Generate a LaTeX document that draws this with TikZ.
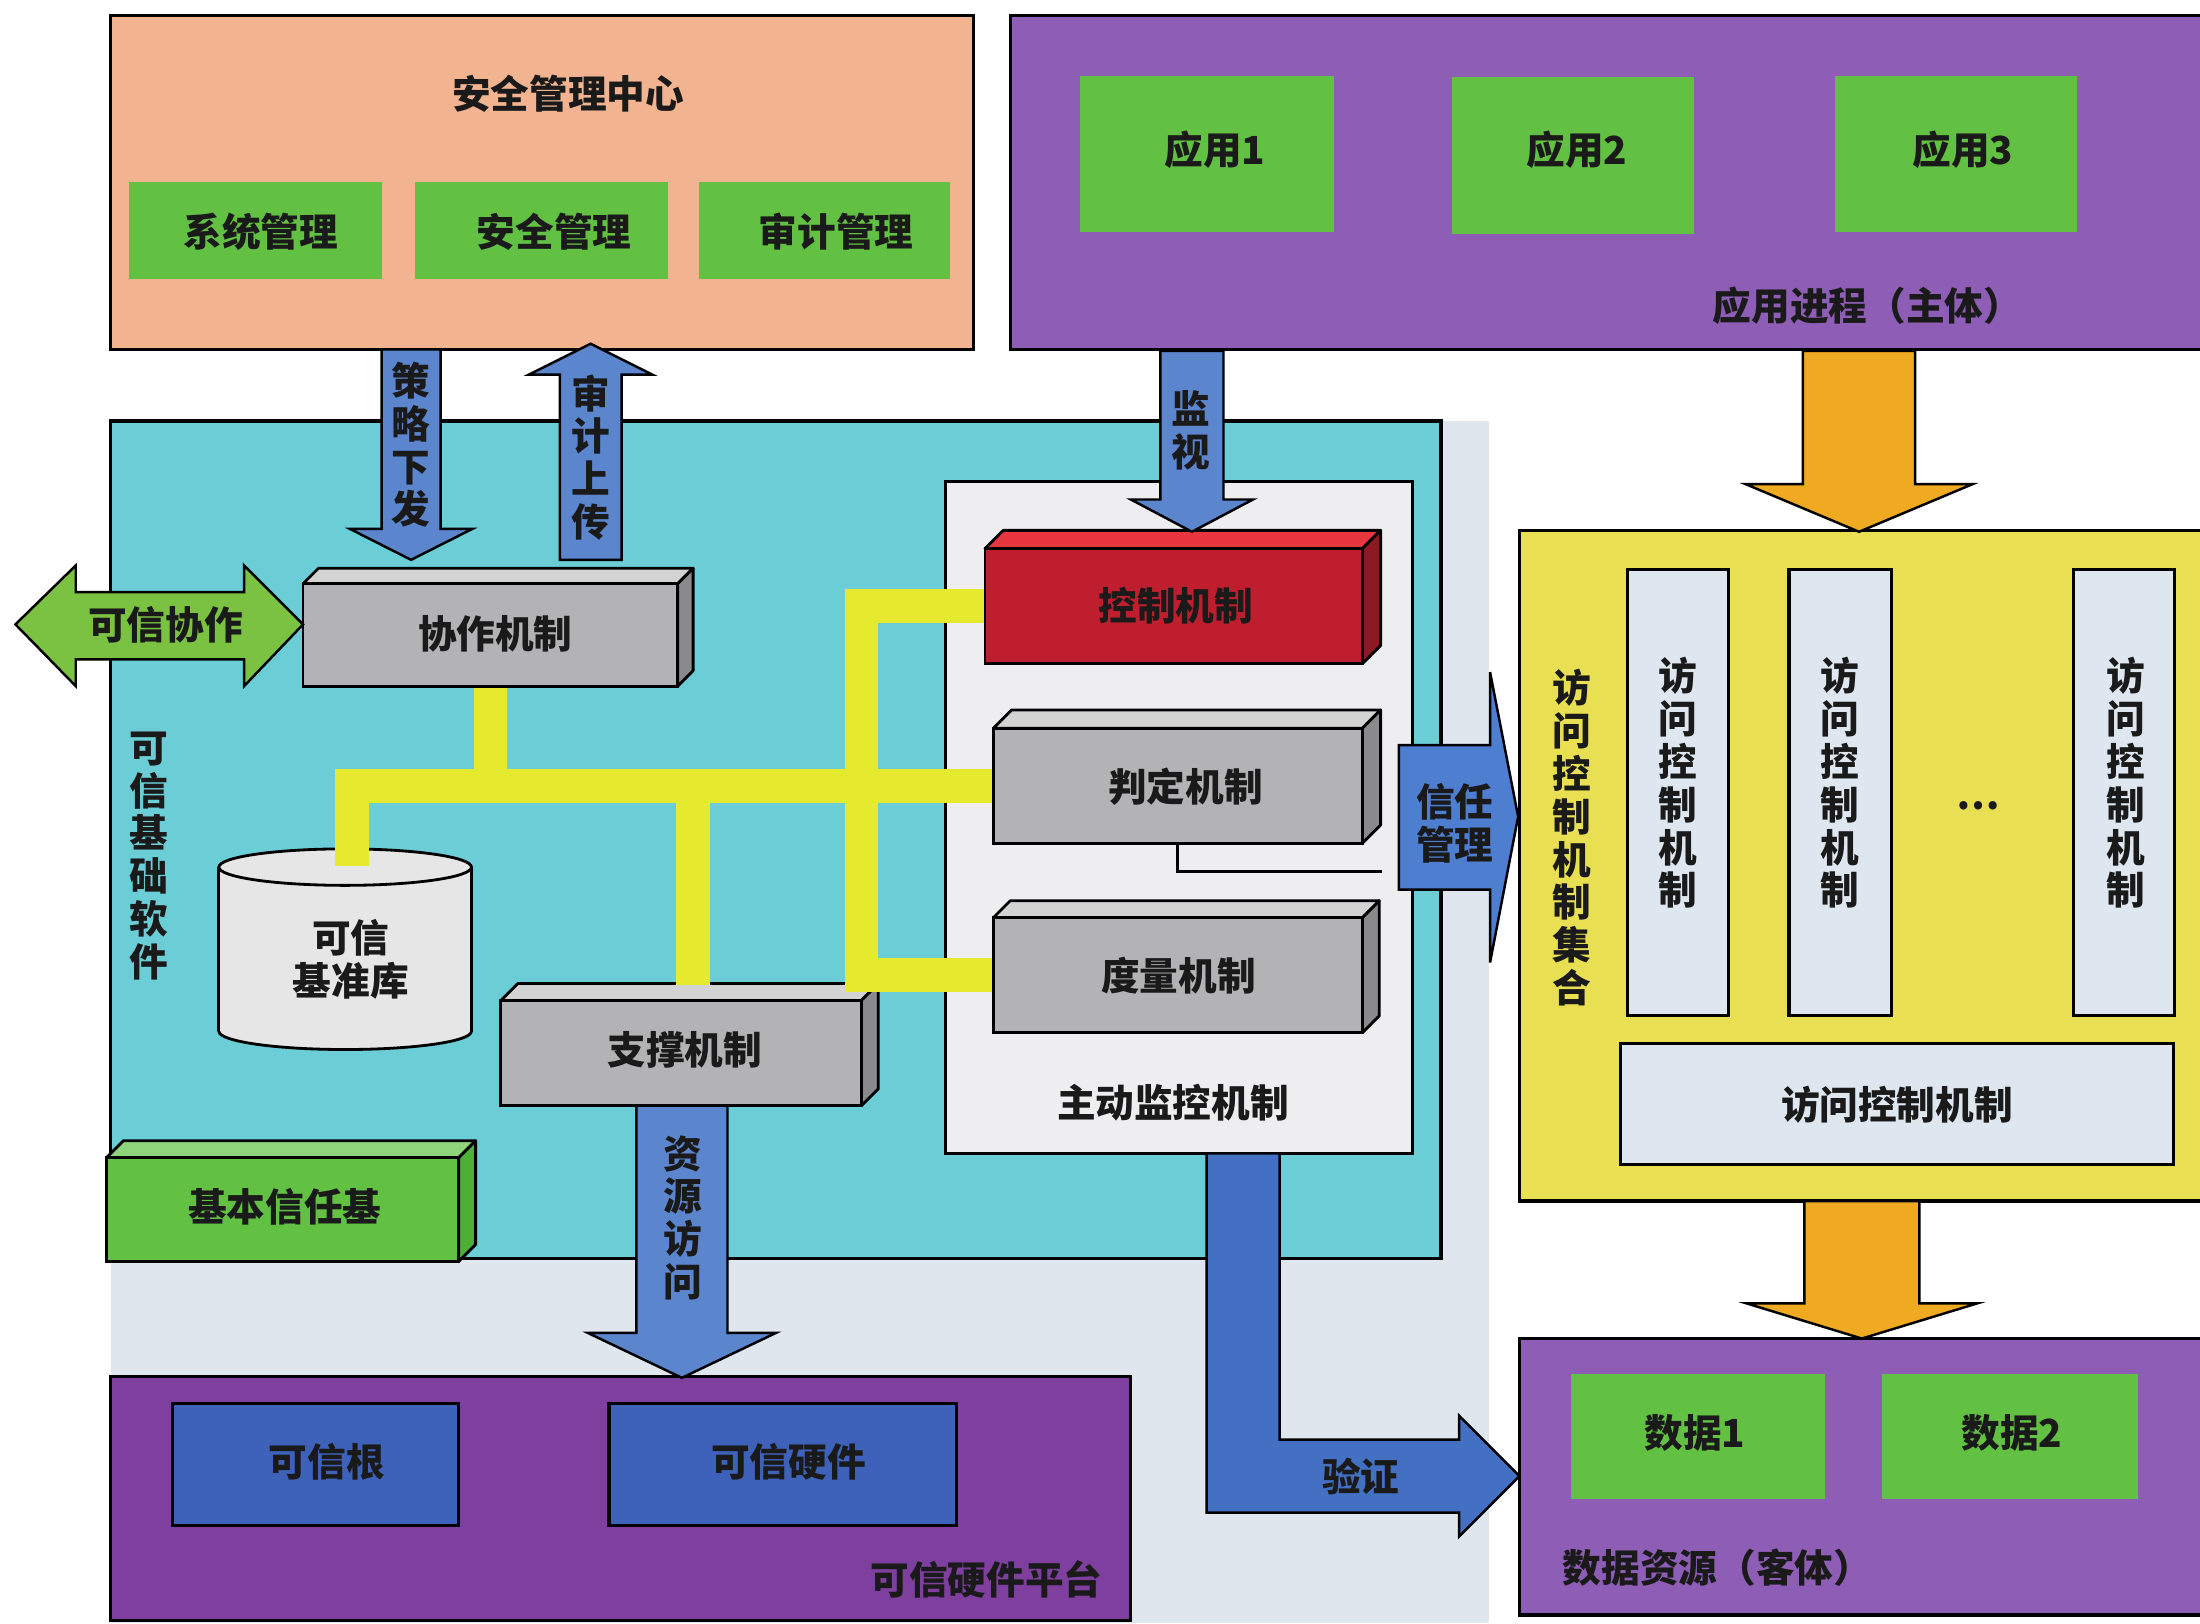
\documentclass[tikz,border=0pt]{standalone}
\usepackage{fontspec}
\setmainfont{Noto Sans CJK SC}
\usetikzlibrary{fit}
\definecolor{txt}{HTML}{1A1A1A}
\definecolor{salmon}{HTML}{F2B490}
\definecolor{purA}{HTML}{8E5DB6}
\definecolor{purB}{HTML}{7E3F9F}
\definecolor{grn}{HTML}{62C143}
\definecolor{grnlt}{HTML}{8FD47A}
\definecolor{grndk}{HTML}{4DAF35}
\definecolor{cyanbg}{HTML}{6BCDD6}
\definecolor{lightbg}{HTML}{DFE6EE}
\definecolor{monbg}{HTML}{EEEDEF}
\definecolor{ybox}{HTML}{E8DF52}
\definecolor{colbg}{HTML}{DEE6EF}
\definecolor{yline}{HTML}{E6EA2F}
\definecolor{orng}{HTML}{F0AA22}
\definecolor{barrow}{HTML}{5B85CD}
\definecolor{tarrow}{HTML}{4E7ECF}
\definecolor{varrow}{HTML}{4470C4}
\definecolor{bbox}{HTML}{3E62BA}
\definecolor{redf}{HTML}{BE1E2D}
\definecolor{redt}{HTML}{E8363F}
\definecolor{reds}{HTML}{8B1A22}
\definecolor{grayf}{HTML}{B3B3B5}
\definecolor{grayt}{HTML}{D3D3D3}
\definecolor{grays}{HTML}{8A8A8C}
\definecolor{cylc}{HTML}{E6E6E6}
\definecolor{coopc}{HTML}{7CC242}
\tikzset{
  lbl/.style={font=\fontsize{11}{12.2}\selectfont\bfseries, text=txt, inner sep=0pt, align=center},
  frame/.style={draw=black, line width=0.9pt, inner sep=0pt},
  flat/.style={inner sep=0pt},
  barr/.style={draw=black, line width=0.7pt, fill=barrow, line join=miter},
  oarr/.style={draw=black, line width=0.7pt, fill=orng, line join=miter},
  tarr/.style={draw=black, line width=0.7pt, fill=tarrow, line join=miter},
  varr/.style={draw=black, line width=0.7pt, fill=varrow, line join=miter},
  garr/.style={draw=black, line width=0.7pt, fill=coopc, line join=miter},
  ypipe/.style={draw=yline, line width=9.6pt, line join=miter, line cap=butt},
}
\newcommand\cubebox[9]{%
  \draw[line width=0.8pt, fill=#8, line join=round] (#2,#3) -- (#2+#6,#3-#6) -- (#4+#6,#3-#6) -- (#4,#3) -- cycle;
  \draw[line width=0.8pt, fill=#9, line join=round] (#4,#3) -- (#4+#6,#3-#6) -- (#4+#6,#5-#6) -- (#4,#5) -- cycle;
  \node[fit={(#2,#3)(#4,#5)}, draw=black, line width=0.8pt, inner sep=0pt, fill=#7] (#1) {};
}
\newcommand\blockarrow[7]{%
  \draw[#1] (#2-#3,#5) -- (#2+#3,#5) -- (#2+#3,#6) -- (#2+#4,#6) -- (#2,#7) -- (#2-#4,#6) -- (#2-#3,#6) -- cycle;
}
\begin{document}
\begin{tikzpicture}[x=0.014031cm, y=-0.014031cm]
\useasboundingbox (0,0) rectangle (1568,1157);
\clip (0,0) rectangle (1568,1157);
\fill[white] (0,0) rectangle (1568,1157);
\fill[lightbg] (79,300) rectangle (1061,1157);

% security management centre
\node[fit={(79,11)(694,249)}, frame, fill=salmon] (smc) {};
\node[lbl] (smct) at (405,67) {安全管理中心};
\node[fit={(92,130)(272,199)}, flat, fill=grn] (sysm) {};
\node[lbl] (sysmt) at (186,165) {系统管理};
\node[fit={(296,130)(476,199)}, flat, fill=grn] (secm) {};
\node[lbl] (secmt) at (395,165) {安全管理};
\node[fit={(498,130)(677,199)}, flat, fill=grn] (audm) {};
\node[lbl] (audmt) at (596,165) {审计管理};

% application processes
\node[fit={(720,11)(1585,249)}, frame, fill=purA] (app) {};
\node[fit={(770,54)(951,165)}, flat, fill=grn] (appa) {};
\node[lbl] (appat) at (866,107) {应用1};
\node[fit={(1035,55)(1207,167)}, flat, fill=grn] (appb) {};
\node[lbl] (appbt) at (1124,107) {应用2};
\node[fit={(1308,54)(1480,165)}, flat, fill=grn] (appc) {};
\node[lbl] (appct) at (1399,107) {应用3};
\node[lbl] (appt) at (1331,218) {应用进程（主体）};

% trusted base software
\node[fit={(79,300)(1027,897)}, frame, fill=cyanbg] (tbs) {};
\node[lbl] (tbst) at (106,610) {可\\信\\基\\础\\软\\件};

% trusted hardware platform
\node[fit={(79,981)(806,1155)}, frame, fill=purB] (thp) {};
\node[fit={(123,1000)(327,1087)}, frame, fill=bbox] (troot) {};
\node[lbl] (troott) at (233,1042) {可信根};
\node[fit={(434,1000)(682,1087)}, frame, fill=bbox] (thw) {};
\node[lbl] (thwt) at (562,1042) {可信硬件};
\node[lbl] (thpt) at (703,1126) {可信硬件平台};

% active monitoring
\node[fit={(674,343)(1007,822)}, frame, fill=monbg] (amm) {};
\node[lbl] (ammt) at (836,786) {主动监控机制};

% trusted reference library (cylinder)
\draw[line width=0.8pt, fill=cylc] (246,735) ellipse [x radius=90, y radius=13];
\fill[cylc] (156,618) rectangle (336,735);
\draw[line width=0.8pt] (156,618) -- (156,735) (336,618) -- (336,735);
\draw[line width=0.8pt, fill=cylc] (246,618) ellipse [x radius=90, y radius=13];
\node[lbl] (reflib) at (250,684) {可信\\基准库};

% 3D boxes
\cubebox{ctrl}{702}{391}{971}{473}{13}{redf}{redt}{reds}
\node[lbl] (ctrlt) at (838,432) {控制机制};
\cubebox{judge}{708}{519}{971}{601}{13}{grayf}{grayt}{grays}
\node[lbl] (judget) at (845,561) {判定机制};
\cubebox{meas}{708}{654}{971}{736}{12}{grayf}{grayt}{grays}
\node[lbl] (meast) at (840,695) {度量机制};
\cubebox{coop}{216}{416}{483}{489}{11}{grayf}{grayt}{grays}
\node[lbl] (coopt) at (353,452) {协作机制};
\cubebox{supp}{357}{713}{614}{788}{12}{grayf}{grayt}{grays}
\node[lbl] (suppt) at (488,748) {支撑机制};
\cubebox{btb}{76}{825}{327}{899}{12}{grn}{grnlt}{grndk}
\node[lbl] (btbt) at (203,860) {基本信任基};

% yellow pipes
\coordinate (cyltop) at (251,617);
\coordinate (supptop) at (494,702);
\coordinate (rv) at (614,560);
\draw[ypipe] (coop.south) -- (coop.south |- judge.west);
\draw[ypipe] (cyltop) |- (judge.west);
\draw[ypipe] (supptop) -- (supptop |- judge.west);
\draw[ypipe] (ctrl.west) -| (rv) |- (meas.west);

% thin line below judge
\coordinate (jend) at (985,621);
\draw[line width=0.8pt] (judge.south) -- (judge.south |- jend) -- (jend);

% access control set
\node[fit={(1083,378)(1585,856)}, frame, fill=ybox] (acs) {};
\node[lbl] (acst) at (1120,597) {访\\问\\控\\制\\机\\制\\集\\合};
\node[fit={(1160,406)(1232,724)}, frame, fill=colbg] (cola) {};
\node[lbl] (colat) at (1196,558) {访\\问\\控\\制\\机\\制};
\node[fit={(1275,406)(1348,724)}, frame, fill=colbg] (colb) {};
\node[lbl] (colbt) at (1311,558) {访\\问\\控\\制\\机\\制};
\node[fit={(1478,406)(1550,724)}, frame, fill=colbg] (colc) {};
\node[lbl] (colct) at (1515,558) {访\\问\\控\\制\\机\\制};
\node[lbl] (dots) at (1410,574) {…};
\node[fit={(1155,744)(1549,830)}, frame, fill=colbg] (acm) {};
\node[lbl] (acmt) at (1352,787) {访问控制机制};

% data resources
\node[fit={(1083,954)(1585,1151)}, frame, fill=purA] (data) {};
\node[fit={(1120,979)(1301,1068)}, flat, fill=grn] (dataa) {};
\node[lbl] (dataat) at (1208,1021) {数据1};
\node[fit={(1341,979)(1524,1068)}, flat, fill=grn] (datab) {};
\node[lbl] (databt) at (1434,1021) {数据2};
\node[lbl] (datat) at (1224,1117) {数据资源（客体）};

% block arrows
\blockarrow{barr}{293}{21}{43.5}{249}{377}{399}
\node[lbl] (policyt) at (293,317) {策\\略\\下\\发};
\blockarrow{barr}{421}{22}{44}{399}{267}{245}
\node[lbl] (auditt) at (421,326) {审\\计\\上\\传};
\blockarrow{barr}{849.5}{22.5}{43.5}{250}{356}{379}
\node[lbl] (watcht) at (849,307) {监\\视};
\blockarrow{barr}{486}{32.5}{67}{788}{950}{982}
\node[lbl] (rest) at (487,868) {资\\源\\访\\问};
\blockarrow{oarr}{1325}{40}{81}{250}{345}{379}
\blockarrow{oarr}{1327}{41}{82}{856}{929}{954}

\draw[tarr] (997,531) -- (1062,531) -- (1062,479) -- (1082,582) -- (1062,686) -- (1062,634) -- (997,634) -- cycle;
\node[lbl] (trustt) at (1037,587) {信任\\管理};

\draw[varr] (860,822) -- (912,822) -- (912,1026) -- (1040,1026) -- (1040,1009) -- (1083,1052) -- (1040,1095) -- (1040,1078) -- (860,1078) -- cycle;
\node[lbl] (verit) at (970,1052) {验证};

\draw[garr] (11,445) -- (54,403) -- (54,422) -- (174,422) -- (174,403) -- (216,445) -- (174,489) -- (174,470) -- (54,470) -- (54,489) -- cycle;
\node[lbl] (coopart) at (118,445) {可信协作};
\end{tikzpicture}
\end{document}
